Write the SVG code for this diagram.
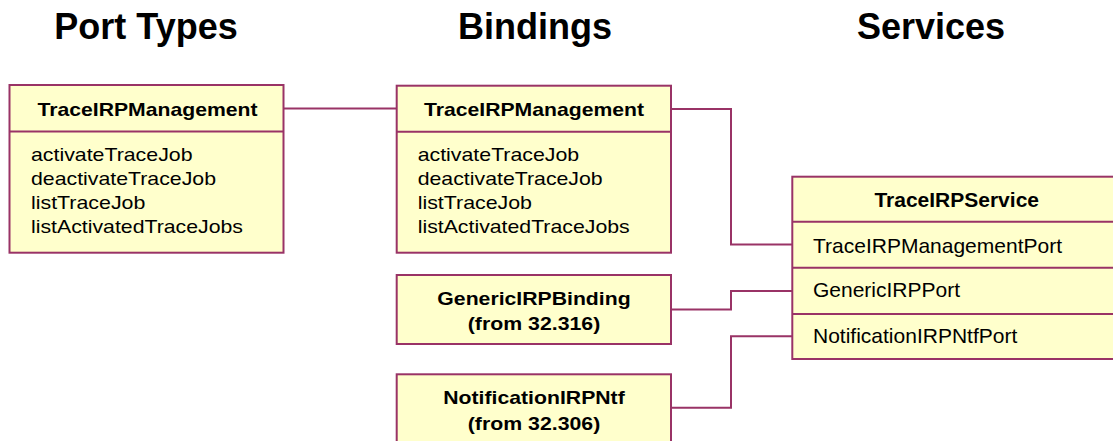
<svg xmlns="http://www.w3.org/2000/svg" width="1113" height="441" viewBox="0 0 1113 441">
<style>
.box{fill:#FFFFCC;stroke:#993366;stroke-width:2}
.div{stroke:#993366;stroke-width:2;fill:none}
.con{stroke:#993366;stroke-width:2;fill:none}
.title{font-family:"Liberation Sans",Arial,sans-serif;font-weight:bold;font-size:36px;fill:#000;text-anchor:middle}
.hd{font-family:"Liberation Sans",Arial,sans-serif;font-weight:bold;font-size:19px;fill:#000;text-anchor:middle}
.it{font-family:"Liberation Sans",Arial,sans-serif;font-size:19px;fill:#000}
.shd{font-family:"Liberation Sans",Arial,sans-serif;font-weight:bold;font-size:21px;fill:#000;text-anchor:middle}
.sit{font-family:"Liberation Sans",Arial,sans-serif;font-size:21px;fill:#000}
</style>
<rect width="1113" height="441" fill="#FFFFFF"/>
<g id="titles">
<text class="title" x="146" y="39">Port Types</text>
<text class="title" x="535" y="39">Bindings</text>
<text class="title" x="931" y="39">Services</text>
</g>
<g id="connectors">
<path class="con" d="M283.5,108.5 H396.7"/>
<path class="con" d="M671,109 H731 V244.5 H792.3"/>
<path class="con" d="M671,309.5 H731 V291 H792.3"/>
<path class="con" d="M671,407.7 H731 V336.3 H792.3"/>
</g>
<g id="porttype-TraceIRPManagement">
<rect class="box" x="9.5" y="85" width="274" height="167.7"/>
<line class="div" x1="9.5" y1="131.5" x2="283.5" y2="131.5"/>
<text class="hd" x="147.5" y="115.7" textLength="220" lengthAdjust="spacingAndGlyphs">TraceIRPManagement</text>
<text class="it" x="31" y="161" textLength="161.5" lengthAdjust="spacingAndGlyphs">activateTraceJob</text>
<text class="it" x="31" y="185" textLength="185" lengthAdjust="spacingAndGlyphs">deactivateTraceJob</text>
<text class="it" x="31" y="209" textLength="114.3" lengthAdjust="spacingAndGlyphs">listTraceJob</text>
<text class="it" x="31" y="233" textLength="212" lengthAdjust="spacingAndGlyphs">listActivatedTraceJobs</text>
</g>
<g id="binding-TraceIRPManagement">
<rect class="box" x="396.7" y="85.7" width="274.3" height="167"/>
<line class="div" x1="396.7" y1="131.7" x2="671" y2="131.7"/>
<text class="hd" x="534" y="115.7" textLength="220" lengthAdjust="spacingAndGlyphs">TraceIRPManagement</text>
<text class="it" x="417.7" y="161" textLength="161.5" lengthAdjust="spacingAndGlyphs">activateTraceJob</text>
<text class="it" x="417.7" y="185" textLength="185" lengthAdjust="spacingAndGlyphs">deactivateTraceJob</text>
<text class="it" x="417.7" y="209" textLength="114.3" lengthAdjust="spacingAndGlyphs">listTraceJob</text>
<text class="it" x="417.7" y="233" textLength="212" lengthAdjust="spacingAndGlyphs">listActivatedTraceJobs</text>
</g>
<g id="binding-GenericIRPBinding">
<rect class="box" x="396.7" y="275" width="274.3" height="69"/>
<text class="hd" x="534" y="305" textLength="193.3" lengthAdjust="spacingAndGlyphs">GenericIRPBinding</text>
<text class="hd" x="534" y="330" textLength="132.5" lengthAdjust="spacingAndGlyphs">(from 32.316)</text>
</g>
<g id="binding-NotificationIRPNtf">
<rect class="box" x="396.7" y="374.3" width="274.3" height="80"/>
<text class="hd" x="534" y="404" textLength="181.5" lengthAdjust="spacingAndGlyphs">NotificationIRPNtf</text>
<text class="hd" x="534" y="430" textLength="132.5" lengthAdjust="spacingAndGlyphs">(from 32.306)</text>
</g>
<g id="service-TraceIRPService">
<rect class="box" x="792.3" y="176.7" width="330" height="182.3"/>
<line class="div" x1="792.3" y1="221.7" x2="1122" y2="221.7"/>
<line class="div" x1="792.3" y1="267.7" x2="1122" y2="267.7"/>
<line class="div" x1="792.3" y1="314" x2="1122" y2="314"/>
<text class="shd" x="956.7" y="206.7">TraceIRPService</text>
<text class="sit" x="813" y="253.3">TraceIRPManagementPort</text>
<text class="sit" x="813" y="297.3">GenericIRPPort</text>
<text class="sit" x="813" y="343.3">NotificationIRPNtfPort</text>
</g>
</svg>
